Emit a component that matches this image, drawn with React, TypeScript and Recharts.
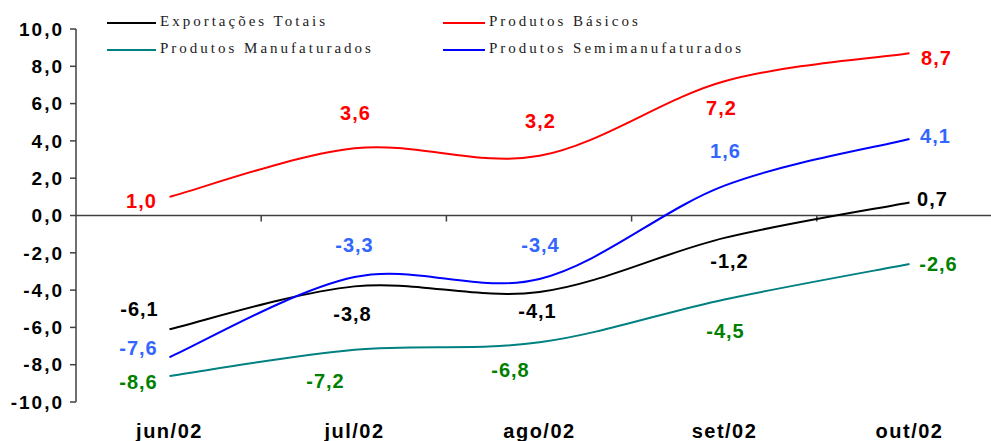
import { LineChart, Line, XAxis, YAxis, ReferenceLine, Legend, LabelList } from 'recharts'

const categories = ['jun/02', 'jul/02', 'ago/02', 'set/02', 'out/02']
const exportacoesTotais = [-6.1, -3.8, -4.1, -1.2, 0.7]
const produtosBasicos = [1.0, 3.6, 3.2, 7.2, 8.7]
const produtosManufaturados = [-8.6, -7.2, -6.8, -4.5, -2.6]
const produtosSemimanufaturados = [-7.6, -3.3, -3.4, 1.6, 4.1]
const yTicks = [-10, -8, -6, -4, -2, 0, 2, 4, 6, 8, 10]

const data = categories.map((name, i) => ({
  name,
  total: exportacoesTotais[i],
  basicos: produtosBasicos[i],
  manuf: produtosManufaturados[i],
  semi: produtosSemimanufaturados[i],
}))

// label offsets (dx, dy) relative to each point, per series
const series = [
  {
    key: 'total', name: 'Exportações Totais', stroke: '#000000', labelColor: '#000000',
    offsets: [[-30, -20], [-2, 28], [-2, 19], [5, 23], [23, -3]],
  },
  {
    key: 'basicos', name: 'Produtos Básicos', stroke: '#FF0000', labelColor: '#FF0000',
    offsets: [[-28, 4], [1, -35], [1, -35], [-3, 27], [27, 5]],
  },
  {
    key: 'manuf', name: 'Produtos Manufaturados', stroke: '#008080', labelColor: '#008000',
    offsets: [[-31, 6], [-29, 31], [-29, 28], [1, 32], [29, 0]],
  },
  {
    key: 'semi', name: 'Produtos Semimanufaturados', stroke: '#0000FF', labelColor: '#3366FF',
    offsets: [[-31, -9], [0, -32], [1, -34], [1, -35], [26, -3]],
  },
]

const legendSlots: Record<string, { left: number; top: number; line: number }> = {
  total: { left: 107, top: 22.5, line: 49 },
  basicos: { left: 443, top: 22.5, line: 42 },
  manuf: { left: 107, top: 50, line: 49 },
  semi: { left: 443, top: 50, line: 42 },
}

const fmt = (v: number) => v.toFixed(1).replace('.', ',')

// Excel-like smoothed line (Catmull-Rom through the points)
function excelSmooth(context: any) {
  let pts: number[][] = []
  return {
    areaStart() {},
    areaEnd() {},
    lineStart() {
      pts = []
    },
    lineEnd() {
      if (pts.length === 0) return
      context.moveTo(pts[0][0], pts[0][1])
      for (let i = 0; i < pts.length - 1; i++) {
        const p0 = pts[Math.max(i - 1, 0)]
        const p1 = pts[i]
        const p2 = pts[i + 1]
        const p3 = pts[Math.min(i + 2, pts.length - 1)]
        context.bezierCurveTo(
          p1[0] + (p2[0] - p0[0]) / 6,
          p1[1] + (p2[1] - p0[1]) / 6,
          p2[0] - (p3[0] - p1[0]) / 6,
          p2[1] - (p3[1] - p1[1]) / 6,
          p2[0],
          p2[1]
        )
      }
    },
    point(x: number, y: number) {
      pts.push([+x, +y])
    },
  }
}

const makeLabel = (color: string, offsets: number[][]) => (props: any) => {
  const x = props.x ?? props.viewBox?.x
  const y = props.y ?? props.viewBox?.y
  const index = props.index ?? 0
  if (x == null || y == null) return null
  const [dx, dy] = offsets[index] || [0, 0]
  return (
    <text
      x={x + dx}
      y={y + dy}
      textAnchor="middle"
      dominantBaseline="central"
      fill={color}
      fontFamily="'Liberation Sans', Arial, sans-serif"
      fontWeight="bold"
      fontSize={20}
      letterSpacing={1}
    >
      {fmt(Number(props.value))}
    </text>
  )
}

const ZeroAxis = (props: any) => {
  const left = Math.min(props.x1, props.x2)
  const right = Math.max(props.x1, props.x2)
  const y = props.y1
  const step = (right - left) / categories.length
  return (
    <g>
      <line x1={left} x2={right} y1={y} y2={y} stroke="#404040" strokeWidth={1.5} />
      {categories.slice(1).map((_, i) => (
        <line
          key={i}
          x1={left + step * (i + 1)}
          x2={left + step * (i + 1)}
          y1={y}
          y2={y + 6}
          stroke="#404040"
          strokeWidth={1.5}
        />
      ))}
    </g>
  )
}

const CustomLegend = ({ payload }: { payload?: Array<{ color: string; value: string; dataKey?: any }> }) => {
  return (
    <div style={{ position: 'relative', width: 991, height: 70 }}>
      {payload?.map((entry, index) => {
        const slot = legendSlots[String(entry.dataKey)]
        if (!slot) return null
        return (
          <div key={index}>
            <div
              style={{
                position: 'absolute',
                left: slot.left,
                top: slot.top - 1,
                width: slot.line,
                height: 2,
                background: entry.color,
              }}
            />
            <span
              style={{
                position: 'absolute',
                left: slot.left + slot.line + 4,
                top: slot.top - 9,
                fontFamily: "'Liberation Serif', 'Times New Roman', serif",
                fontSize: 15,
                lineHeight: '15px',
                letterSpacing: 3,
                color: '#222',
                whiteSpace: 'nowrap',
              }}
            >
              {entry.value}
            </span>
          </div>
        )
      })}
    </div>
  )
}

export default function App() {
  return (
    <div style={{ position: 'absolute', left: 0, top: 0, width: 991, height: 441, overflow: 'hidden', background: '#fff' }}>
      <LineChart width={1010} height={441} data={data} margin={{ top: 29, right: 8, bottom: 9, left: 0 }}>
        <XAxis
          dataKey="name"
          axisLine={false}
          tickLine={false}
          height={30}
          tickMargin={16}
          interval={0}
          padding={{ left: 93.5, right: 92.5 }}
          tick={{
            fill: '#000',
            fontSize: 20,
            fontWeight: 'bold',
            fontFamily: "'Liberation Sans', Arial, sans-serif",
            letterSpacing: 1.5,
          }}
        />
        <YAxis
          domain={[-10, 10]}
          ticks={yTicks}
          interval={0}
          width={76}
          tickSize={6}
          tickMargin={6}
          tickFormatter={fmt}
          axisLine={{ stroke: '#404040', strokeWidth: 1.5 }}
          tickLine={{ stroke: '#404040', strokeWidth: 1.5 }}
          tick={{
            fill: '#000',
            fontSize: 19,
            fontWeight: 'bold',
            fontFamily: "'Liberation Sans', Arial, sans-serif",
            letterSpacing: 2,
          }}
        />
        <ReferenceLine y={0} shape={<ZeroAxis />} />
        <Legend
          layout="vertical"
          align="center"
          verticalAlign="middle"
          wrapperStyle={{ top: 0, left: 0, width: 991, height: 70 }}
          content={<CustomLegend />}
        />
        {series.map(s => (
          <Line
            key={s.key}
            dataKey={s.key}
            name={s.name}
            type={excelSmooth as any}
            stroke={s.stroke}
            strokeWidth={2}
            dot={false}
            activeDot={false}
            isAnimationActive={false}
          >
            <LabelList dataKey={s.key} content={makeLabel(s.labelColor, s.offsets)} />
          </Line>
        ))}
      </LineChart>
    </div>
  )
}
